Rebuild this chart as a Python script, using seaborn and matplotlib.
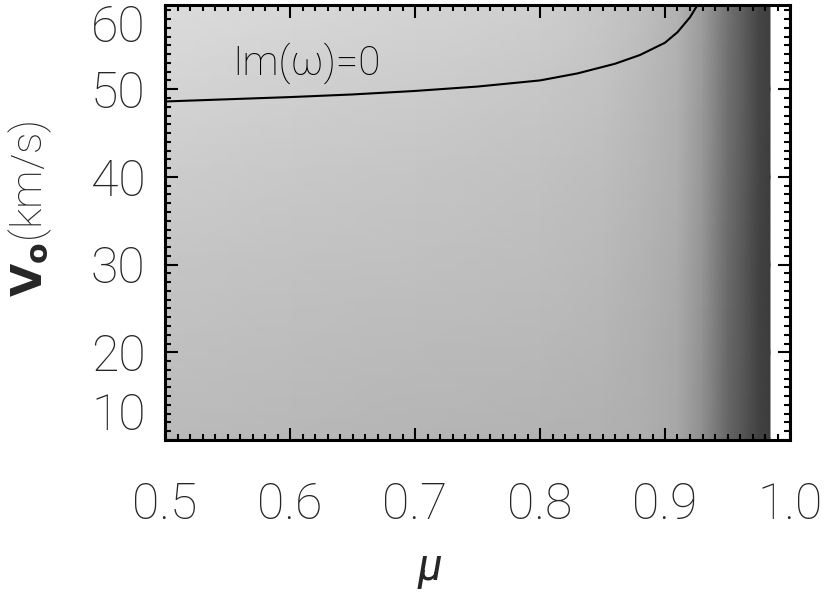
import matplotlib
matplotlib.use("Agg")
import matplotlib.pyplot as plt
import seaborn as sns
import numpy as np
from matplotlib.ticker import MultipleLocator

# ---------------- DATA ---------------- #

# mu positions and V0 rows of the grey background (0=black 1=white)
mu_grid = [0.50, 0.60, 0.70, 0.80, 0.85, 0.88, 0.91, 0.93, 0.95, 0.965, 0.975, 0.984]
v_grid = [10, 20, 30, 40, 50, 60]
shade = [
    [0.73, 0.72, 0.71, 0.70, 0.695, 0.685, 0.655, 0.56, 0.40, 0.32, 0.26, 0.24],
    [0.75, 0.74, 0.73, 0.72, 0.71, 0.69, 0.66, 0.57, 0.41, 0.33, 0.26, 0.24],
    [0.77, 0.76, 0.75, 0.74, 0.725, 0.70, 0.67, 0.58, 0.42, 0.33, 0.26, 0.24],
    [0.80, 0.785, 0.77, 0.755, 0.74, 0.715, 0.68, 0.59, 0.43, 0.34, 0.27, 0.24],
    [0.83, 0.815, 0.80, 0.78, 0.76, 0.73, 0.69, 0.60, 0.44, 0.35, 0.27, 0.25],
    [0.86, 0.845, 0.83, 0.81, 0.78, 0.75, 0.70, 0.61, 0.45, 0.35, 0.27, 0.25],
]

# Im(omega)=0 contour
contour_mu = [0.50, 0.55, 0.60, 0.65, 0.70, 0.75, 0.80, 0.83, 0.86, 0.88, 0.90, 0.91, 0.92, 0.926]
contour_v = [48.6, 48.85, 49.1, 49.4, 49.8, 50.3, 51.0, 51.8, 52.9, 53.9, 55.3, 56.5, 58.2, 59.6]

x_ticks = [0.5, 0.6, 0.7, 0.8, 0.9, 1.0]
y_ticks = [10, 20, 30, 40, 50]

# ---------------- PLOT ---------------- #

sns.set_theme(style="white")
plt.rcParams["font.family"] = ["Roboto", "DejaVu Sans"]
plt.rcParams["font.weight"] = "light"
plt.rcParams["mathtext.fontset"] = "dejavusans"

fig = plt.figure(figsize=(8.3, 5.97), dpi=100)
ax = fig.add_axes([165 / 830, 1 - 440 / 597, 625 / 830, 435 / 597])

ax.pcolormesh(mu_grid, v_grid, np.array(shade), shading="gouraud",
              cmap="gray", vmin=0, vmax=1, zorder=0)

sns.lineplot(x=contour_mu, y=contour_v, sort=False, estimator=None,
             color="black", linewidth=1.5, ax=ax)

ax.text(0.5536, 51.7, "Im(ω)=0", fontsize=29, color="black",
        ha="left", va="baseline")

ax.set_xlim(0.5, 1.0)
ax.set_ylim(10, 59.6)
ax.set_xticks(x_ticks)
ax.set_xticklabels([f"{t:.1f}" for t in x_ticks])
ax.set_yticks(y_ticks)
ax.xaxis.set_minor_locator(MultipleLocator(0.01))
ax.yaxis.set_minor_locator(MultipleLocator(1))

ax.tick_params(which="both", direction="in", top=True, right=True,
               bottom=True, left=True, width=1.5, color="black")
ax.tick_params(which="major", length=9)
ax.tick_params(which="minor", length=4.5)
ax.tick_params(axis="x", pad=30, labelsize=36)
ax.tick_params(axis="y", pad=14, labelsize=36)

for tick in ax.yaxis.get_major_ticks()[:1]:
    tick.label1.set_verticalalignment("bottom")

# top label sits just inside the frame like the original
ax.annotate("60", xy=(0, 1), xycoords="axes fraction", xytext=(-14, 0),
            textcoords="offset points", ha="right", va="top", fontsize=36)

for spine in ax.spines.values():
    spine.set_linewidth(2.2)
    spine.set_color("black")

fig.text(430 / 830, 1 - 568 / 597, "μ", fontsize=32, fontstyle="italic",
         fontweight="normal", ha="center", va="center")
fig.text(30 / 830, 1 - 209 / 597, r"$\mathbf{V}_{\mathbf{o}}$(km/s)", fontsize=31,
         rotation=90, ha="center", va="center")

fig.savefig("out.png", dpi=100)
